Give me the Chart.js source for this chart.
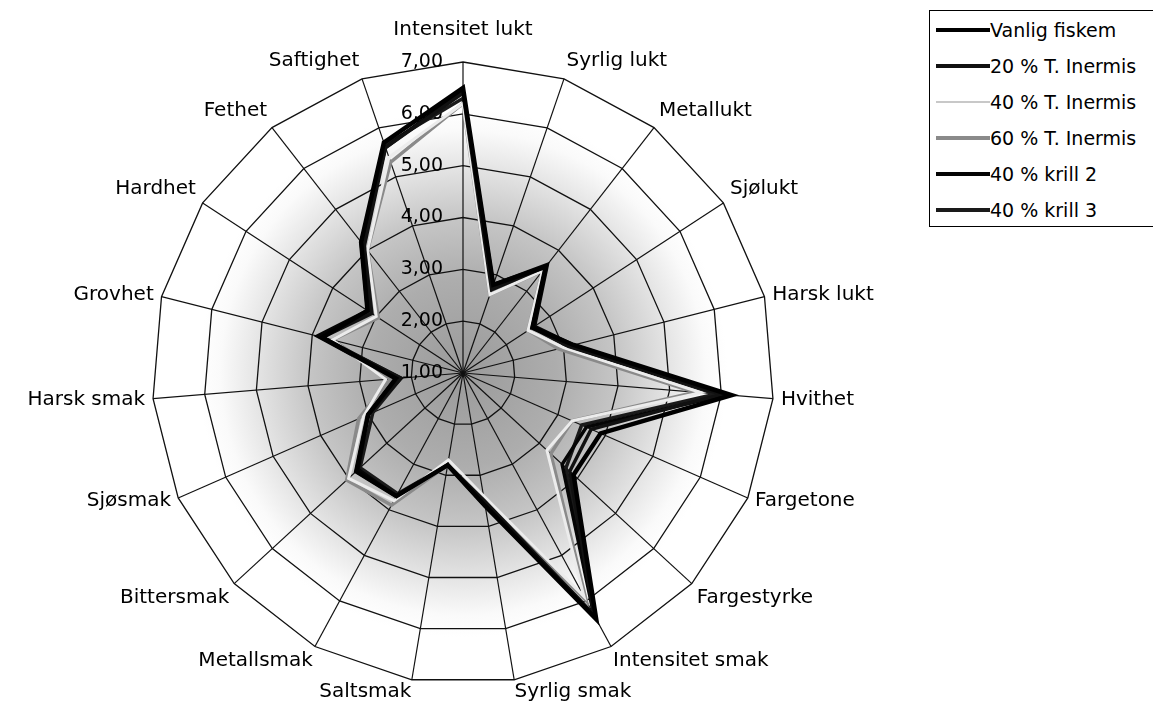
<!DOCTYPE html>
<html>
<head>
<meta charset="utf-8">
<script src="https://cdn.jsdelivr.net/npm/chart.js@4.4.0/dist/chart.umd.min.js"></script>
<style>
  body { margin: 0; background: #fff; font-family: "DejaVu Sans", sans-serif; }
  #wrap { position: absolute; left: 0; top: 0; width: 1153px; height: 702px; }
  #legend {
    position: absolute; left: 929px; top: 10px; width: 240px; height: 217px;
    border: 1px solid #000; background: #fff; box-sizing: border-box; padding-top: 1px;
  }
  .row { height: 36px; display: flex; align-items: center; font-size: 19px; color: #000; }
  .swatch { width: 54px; margin-left: 6px; }
</style>
</head>
<body>
<div id="wrap"><canvas id="radar"></canvas></div>
<div id="legend"></div>
<script>
// Categories (clockwise from top)
const categories = ['Intensitet lukt', 'Syrlig lukt', 'Metallukt', 'Sjølukt', 'Harsk lukt', 'Hvithet',
  'Fargetone', 'Fargestyrke', 'Intensitet smak', 'Syrlig smak', 'Saltsmak', 'Metallsmak',
  'Bittersmak', 'Sjøsmak', 'Harsk smak', 'Grovhet', 'Hardhet', 'Fethet', 'Saftighet'];

const seriesNames = ['Vanlig fiskem', '20 % T. Inermis', '40 % T. Inermis', '60 % T. Inermis', '40 % krill 2', '40 % krill 3'];

// Values
const vanligFiskem = [6.50, 2.80, 3.60, 2.60, 3.20, 6.20, 3.90, 3.90, 6.40, 3.60, 2.80, 3.70, 3.80, 3.00, 2.30, 3.80, 3.20, 4.20, 5.70];
const inermis20    = [6.40, 2.70, 3.60, 2.60, 3.10, 6.00, 3.70, 3.80, 6.30, 3.50, 2.80, 3.70, 3.80, 3.00, 2.20, 3.80, 3.10, 4.10, 5.60];
const inermis40    = [6.20, 2.60, 3.50, 2.50, 3.00, 5.60, 3.30, 3.20, 5.90, 3.40, 2.70, 3.80, 4.00, 3.10, 2.50, 3.60, 3.00, 4.00, 5.40];
const inermis60    = [6.20, 2.60, 3.50, 2.50, 2.90, 5.50, 3.30, 3.30, 6.00, 3.50, 2.80, 3.90, 4.05, 3.20, 2.40, 3.60, 2.95, 4.00, 5.30];
const krill2       = [6.45, 2.80, 3.65, 2.65, 3.20, 6.10, 3.60, 3.60, 6.30, 3.50, 2.80, 3.70, 3.75, 3.00, 2.30, 3.90, 3.20, 4.20, 5.60];
const krill3       = [6.30, 2.75, 3.60, 2.60, 3.10, 5.90, 3.50, 3.70, 6.35, 3.60, 2.80, 3.65, 3.70, 2.90, 2.20, 3.85, 3.15, 4.15, 5.65];

const allSeries = [vanligFiskem, inermis20, inermis40, inermis60, krill2, krill3];
const lineColors = ['#000000', '#111111', '#ececec', '#8a8a8a', '#050505', '#1a1a1a'];
const lineWidths = [4.5, 3.5, 3, 3.5, 3.5, 3.5];

const labelFont = '20px "DejaVu Sans"';
const tickFont = '19px "DejaVu Sans"';

// grey centre shading + tick labels + category labels
const excelRadar = {
  id: 'excelRadar',
  beforeDraw(chart) {
    const s = chart.scales.r;
    const ctx = chart.ctx;
    const R = s.drawingArea;
    const g = ctx.createRadialGradient(s.xCenter, s.yCenter, 0, s.xCenter, s.yCenter, R);
    g.addColorStop(0, '#9a9a9a');
    g.addColorStop(0.3, '#adadad');
    g.addColorStop(0.5, '#c6c6c6');
    g.addColorStop(0.65, '#e2e2e2');
    g.addColorStop(0.78, '#fafafa');
    g.addColorStop(0.85, '#ffffff');
    ctx.save();
    ctx.beginPath();
    categories.forEach((c, i) => {
      const p = s.getPointPosition(i, R);
      if (i === 0) ctx.moveTo(p.x, p.y); else ctx.lineTo(p.x, p.y);
    });
    ctx.closePath();
    ctx.fillStyle = g;
    ctx.fill();
    ctx.restore();
  },
  beforeDatasetsDraw(chart) {
    const s = chart.scales.r;
    const ctx = chart.ctx;
    ctx.save();
    ctx.font = tickFont;
    ctx.fillStyle = '#000';
    ctx.textAlign = 'right';
    ctx.textBaseline = 'middle';
    s.ticks.forEach(t => {
      const y = s.yCenter - s.getDistanceFromCenterForValue(t.value);
      ctx.fillText(t.value.toFixed(2).replace('.', ','), s.xCenter - 20, y);
    });
    ctx.restore();
  },
  afterDraw(chart) {
    const s = chart.scales.r;
    const ctx = chart.ctx;
    const R = s.drawingArea;
    ctx.save();
    ctx.font = labelFont;
    ctx.fillStyle = '#000';
    categories.forEach((label, i) => {
      const a = s.getIndexAngle(i);
      const sn = Math.sin(a), cs = Math.cos(a);
      let pad = 8 - 6 * Math.pow(Math.max(0, -cs), 4);
      if (i === 0) pad = 22;
      const p = s.getPointPosition(i, R + pad);
      ctx.textAlign = Math.abs(sn) < 0.05 ? 'center' : (sn > 0 ? 'left' : 'right');
      ctx.textBaseline = Math.abs(cs) < 0.45 ? 'middle' : (cs > 0 ? 'bottom' : 'top');
      ctx.fillText(label, p.x, p.y);
    });
    ctx.restore();
  }
};

new Chart(document.getElementById('radar'), {
  type: 'radar',
  data: {
    labels: categories,
    datasets: seriesNames.map((name, i) => ({
      label: name,
      data: allSeries[i],
      borderColor: lineColors[i],
      borderWidth: lineWidths[i],
      borderJoinStyle: 'miter',
      fill: false,
      pointRadius: 0,
      tension: 0
    }))
  },
  options: {
    responsive: true,
    maintainAspectRatio: false,
    animation: false,
    layout: { padding: { left: 152, right: 379, top: 62, bottom: 18 } },
    plugins: { legend: { display: false }, tooltip: { enabled: false } },
    scales: {
      r: {
        min: 1,
        max: 7,
        ticks: { display: false, stepSize: 1 },
        grid: { color: '#111', lineWidth: 1.3, circular: false },
        angleLines: { color: '#111', lineWidth: 1.2 },
        pointLabels: { display: false }
      }
    }
  },
  plugins: [excelRadar]
});

// legend box
const legend = document.getElementById('legend');
seriesNames.forEach((name, i) => {
  const row = document.createElement('div');
  row.className = 'row';
  const sw = document.createElement('span');
  sw.className = 'swatch';
  sw.style.borderTop = (i === 2 ? 2 : 4) + 'px solid ' + (i === 2 ? '#c8c8c8' : lineColors[i]);
  const txt = document.createElement('span');
  txt.textContent = name;
  row.appendChild(sw);
  row.appendChild(txt);
  legend.appendChild(row);
});
</script>
</body>
</html>
